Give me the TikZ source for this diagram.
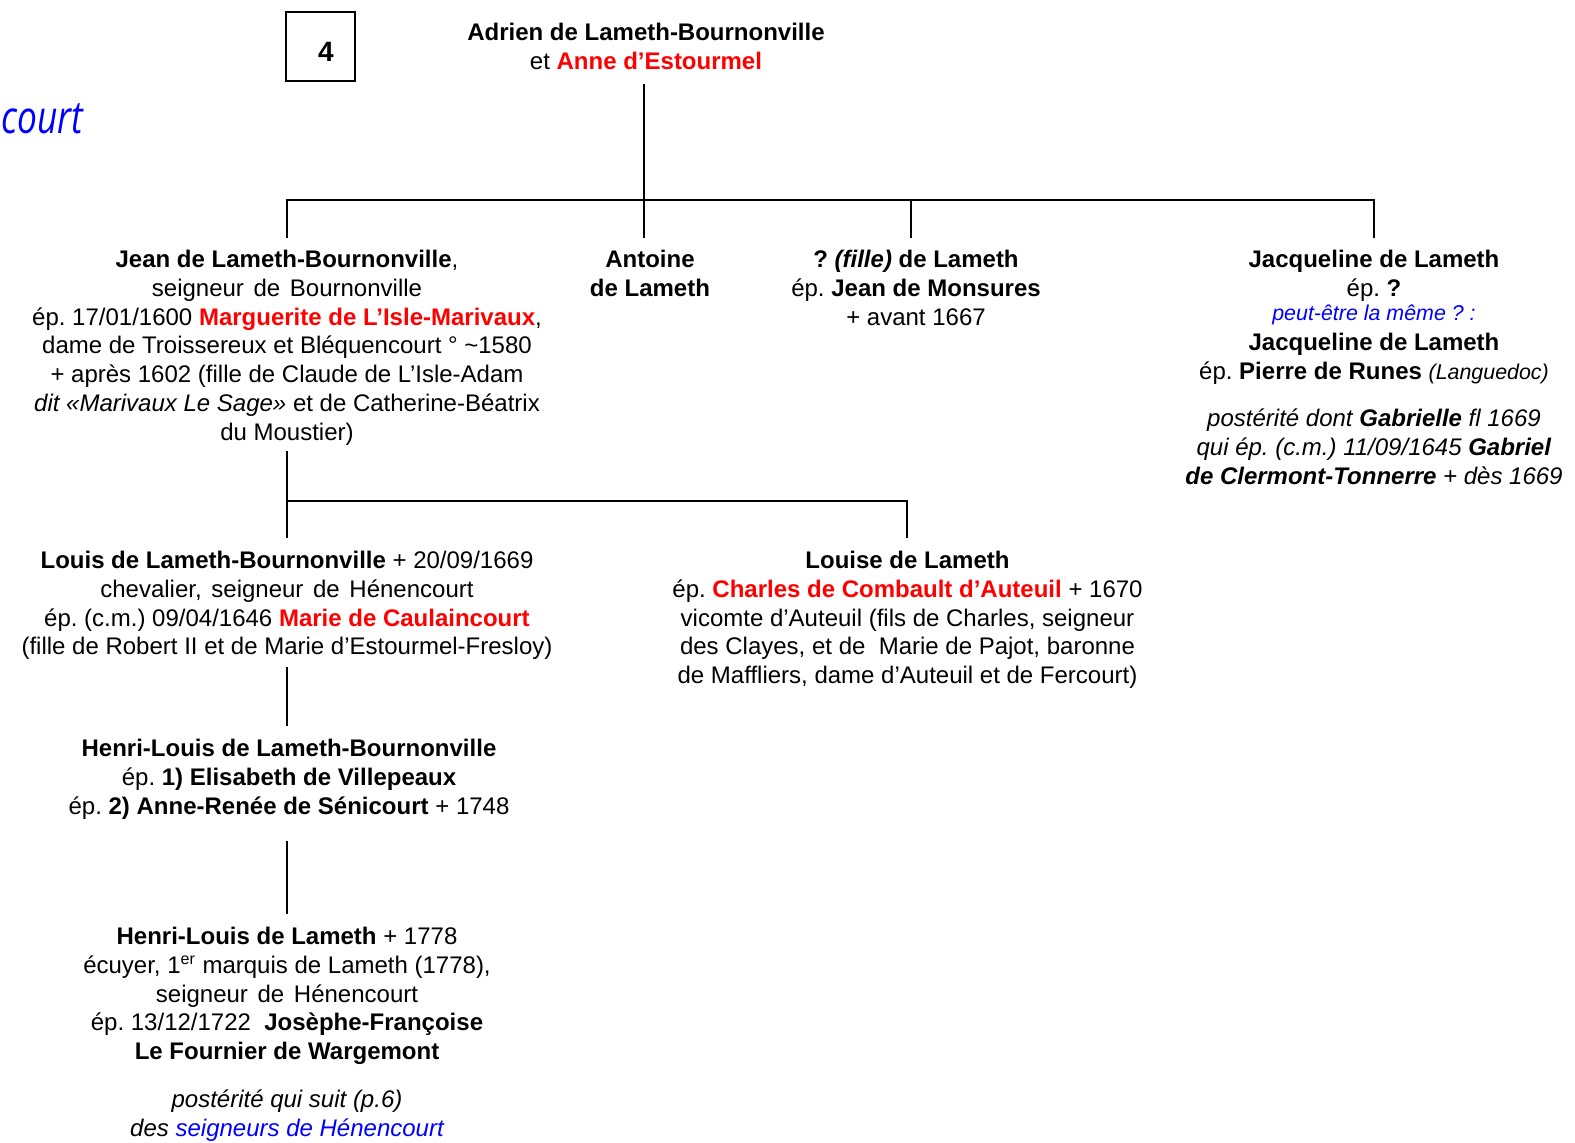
\documentclass[tikz,border=0pt]{standalone}
\usepackage{fontspec}
\setmainfont{Liberation Sans}[Ligatures={TeX,NoCommon}]
\newfontfamily\courtfont{Open Sans}
\newcommand\fs{\fontsize{12pt}{14.4pt}\selectfont}
\newcommand\fssmall{\fontsize{10.7pt}{12.8pt}\selectfont}
\definecolor{rd}{RGB}{255,0,0}
\definecolor{bl}{RGB}{0,0,255}
\tikzset{
  txt/.style={align=center, inner sep=0pt, anchor=north, font=\fs\frenchspacing},
  conn/.style={line width=1.3pt, line cap=rect},
}
\begin{document}
\frenchspacing
\begin{tikzpicture}[x=0.5pt, y=-0.5pt]
\useasboundingbox (0,0) rectangle (1575,1142);
% headings
\node[anchor=base west, inner sep=0pt, text=bl, font=\courtfont\itshape\fontsize{21pt}{25pt}\selectfont] (court) at (1,133) {\scalebox{0.84}[1.08]{court}};
\node[draw, line width=0.8pt, minimum width=34.5pt, minimum height=34.5pt, inner sep=0pt] (box4) at (320.5,46.5) {};
\node[inner sep=0pt, font=\bfseries\fontsize{14pt}{16pt}\selectfont] (num) at (326,52) {4};
\node[txt] (adrien) at (646,20) {\strut\textbf{Adrien de Lameth-Bournonville}\\ et \textcolor{rd}{\textbf{Anne d’Estourmel}}};
% generation 2
\node[txt] (jean) at (287,247) {\strut\textbf{Jean de Lameth-Bournonville},\\ seigneur\hspace{1.5pt} de\hspace{1.5pt} Bournonville\\ ép. 17/01/1600 \textcolor{rd}{\textbf{Marguerite de L’Isle-Marivaux}},\\ dame de Troissereux et Bléquencourt ° \textasciitilde1580\\ + après 1602 (fille de Claude de L’Isle-Adam\\ \textit{dit «Marivaux Le Sage»} et de Catherine-Béatrix\\ du Moustier)};
\node[txt] (antoine) at (650,247) {\strut\textbf{Antoine}\\ \textbf{de Lameth}};
\node[txt] (fille) at (916,247) {\strut\textbf{? \textit{(fille)} de Lameth}\\ ép. \textbf{Jean de Monsures}\\ + avant 1667};
\node[txt] (jacq) at (1374,247) {\strut\textbf{Jacqueline de Lameth}\\ ép. \textbf{?}};
\node[txt, font=\fssmall, text=bl] (jacqnote) at (1374,302) {\strut\textit{peut-être la même ? :}};
\node[txt] (jacq2) at (1374,330) {\strut\textbf{Jacqueline de Lameth}\\ ép. \textbf{Pierre de Runes} {\fssmall\textit{(Languedoc)}}};
\node[txt] (jacqpost) at (1374,406) {\strut\textit{postérité dont \textbf{Gabrielle} fl 1669}\\ \textit{qui ép. (c.m.) 11/09/1645 \textbf{Gabriel}}\\ \textit{\textbf{de Clermont-Tonnerre} + dès 1669}};
% generation 3
\node[txt] (louis) at (287,548) {\strut\textbf{Louis de Lameth-Bournonville} + 20/09/1669\\ chevalier,\hspace{1.5pt} seigneur\hspace{1.5pt} de\hspace{1.5pt} Hénencourt\\ ép. (c.m.) 09/04/1646 \textcolor{rd}{\textbf{Marie de Caulaincourt}}\\ (fille de Robert II et de Marie d’Estourmel-Fresloy)};
\node[txt] (louise) at (907.5,548) {\strut\textbf{Louise de Lameth}\\ ép. \textcolor{rd}{\textbf{Charles de Combault d’Auteuil}} + 1670\\ vicomte d’Auteuil (fils de Charles, seigneur\\ des Clayes, et de\ \ Marie de Pajot, baronne\\ de Maffliers, dame d’Auteuil et de Fercourt)};
% generation 4
\node[txt] (hla) at (289,736) {\strut\textbf{Henri-Louis de Lameth-Bournonville}\\ ép. \textbf{1) Elisabeth de Villepeaux}\\ ép. \textbf{2) Anne-Renée de Sénicourt} + 1748};
% generation 5
\node[txt] (hlb) at (287,924) {\strut\textbf{Henri-Louis de Lameth} + 1778\\ écuyer, 1\textsuperscript{er} marquis de Lameth (1778),\\ seigneur\hspace{1.5pt} de\hspace{1.5pt} Hénencourt\\ ép. 13/12/1722\ \ \textbf{Josèphe-Françoise}\\ \textbf{Le Fournier de Wargemont}};
\node[txt] (hlpost) at (287,1087) {\strut\textit{postérité qui suit (p.6)}\\ \textit{des \textcolor{bl}{seigneurs de Hénencourt}}};
% connector points
\coordinate (a0) at (644,85);
\coordinate (a1) at (644,200);
\coordinate (b1) at (287,200);
\coordinate (b4) at (1374,200);
\coordinate (c1) at (287,237);
\coordinate (c2) at (644,237);
\coordinate (c3) at (911,200);
\coordinate (c3b) at (911,237);
\coordinate (c4) at (1374,237);
\coordinate (d0) at (287,452);
\coordinate (d1) at (287,501);
\coordinate (d2) at (907,501);
\coordinate (d3) at (287,537);
\coordinate (d4) at (907,537);
\coordinate (e0) at (287,668);
\coordinate (e1) at (287,725);
\coordinate (f0) at (287,842);
\coordinate (f1) at (287,913);
% connectors
\draw[conn] (a0) -- (a1);
\draw[conn] (b1) -- (b4);
\draw[conn] (b1) -- (c1);
\draw[conn] (a1) -- (c2);
\draw[conn] (c3) -- (c3b);
\draw[conn] (b4) -- (c4);
\draw[conn] (d0) -- (d3);
\draw[conn] (d1) -- (d2) -- (d4);
\draw[conn] (e0) -- (e1);
\draw[conn] (f0) -- (f1);
\end{tikzpicture}
\end{document}
